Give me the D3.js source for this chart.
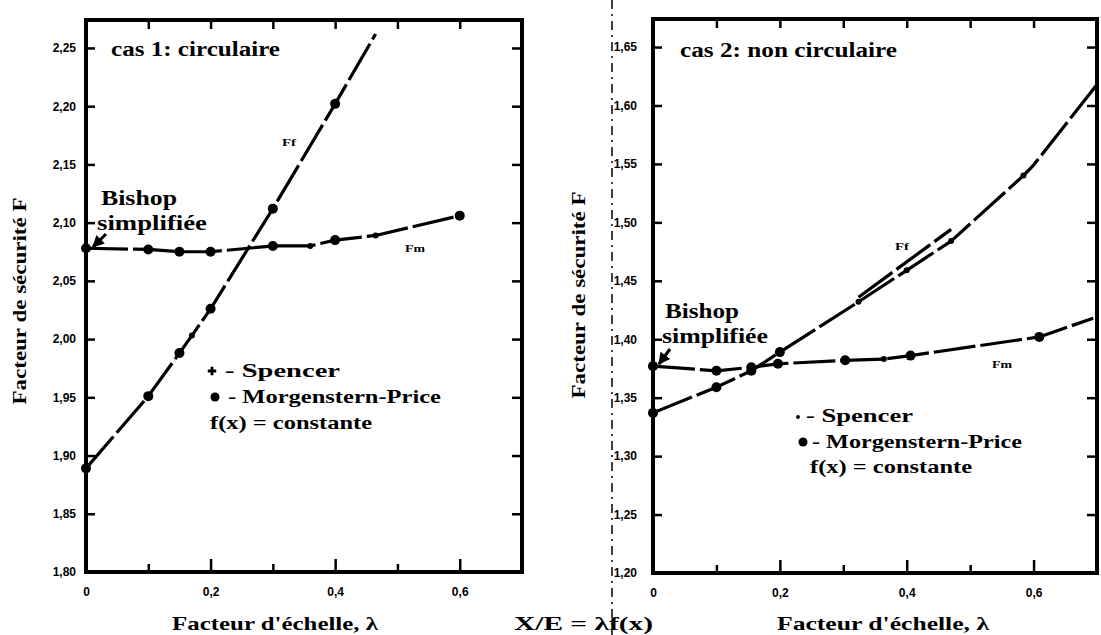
<!DOCTYPE html>
<meta charset="utf-8">
<style>

body {
  margin: 0;
  background: #fff;
}

svg {
  display: block;
  font-family: "Liberation Serif", "DejaVu Serif", serif;
  font-weight: bold;
}

.axe path {
  display: none;
}

.axe line {
  stroke: #000;
  stroke-width: 2.5;
}

.axe text {
  font-size: 12px;
  font-weight: bold;
  fill: #000;
}

.cadre {
  fill: none;
  stroke: #000;
  stroke-width: 4;
}

.courbe {
  fill: none;
  stroke: #000;
  stroke-width: 3.2;
  stroke-linejoin: round;
  stroke-dasharray: 42 5;
}

</style>

<svg width="1101" height="635"></svg>

<script src="https://d3js.org/d3.v7.min.js"></script>
<script>

// graduations
var graduationsX = [0, 0.2, 0.4, 0.6];
var graduationsXmin = [0.1, 0.3, 0.5];
var graduationsY1 = [1.80, 1.85, 1.90, 1.95, 2.00, 2.05, 2.10, 2.15, 2.20, 2.25];
var graduationsY2 = [1.20, 1.25, 1.30, 1.35, 1.40, 1.45, 1.50, 1.55, 1.60, 1.65];

// cas 1: circulaire
var lambdaFf1 = [0, 0.1, 0.15, 0.17, 0.2, 0.3, 0.4, 0.465];
var valeursFf1 = [1.889, 1.951, 1.988, 2.003, 2.026, 2.112, 2.202, 2.262];
var marquesFf1 = ["mp", "mp", "mp", "sp", "mp", "mp", "mp", ""];

var lambdaFm1 = [0, 0.1, 0.15, 0.2, 0.3, 0.36, 0.4, 0.465, 0.6];
var valeursFm1 = [2.078, 2.077, 2.075, 2.075, 2.080, 2.080, 2.085, 2.089, 2.106];
var marquesFm1 = ["mp", "mp", "mp", "mp", "mp", "sp", "mp", "sp", "mp"];

// cas 2: non circulaire
var lambdaFf2 = [0, 0.1, 0.155, 0.2, 0.324, 0.4, 0.47, 0.584, 0.6, 0.7];
var valeursFf2 = [1.337, 1.359, 1.373, 1.389, 1.432, 1.459, 1.484, 1.540, 1.549, 1.618];
var marquesFf2 = ["mp", "mp", "mp", "mp", "sp", "sp", "sp", "sp", "", ""];

// petit trait Spencer au-dessus de Ff
var lambdaSp2 = [0.324, 0.47];
var valeursSp2 = [1.436, 1.494];

var lambdaFm2 = [0, 0.1, 0.155, 0.197, 0.303, 0.364, 0.406, 0.609, 0.694];
var valeursFm2 = [1.377, 1.373, 1.376, 1.379, 1.382, 1.383, 1.386, 1.402, 1.418];
var marquesFm2 = ["mp", "mp", "mp", "mp", "mp", "sp", "mp", "mp", ""];

var svg = d3.select("svg");

// fleche pour "Bishop simplifiée"
svg.append("defs").append("marker")
    .attr("id", "fleche")
    .attr("viewBox", "0 0 10 10")
    .attr("refX", 9).attr("refY", 5)
    .attr("markerWidth", 4).attr("markerHeight", 4)
    .attr("orient", "auto")
  .append("path")
    .attr("d", "M0,0 L10,5 L0,10 z")
    .attr("fill", "#000");

var formatY = d => d3.format(".2f")(d).replace(".", ",");
var formatX = d => d === 0 ? "0" : d3.format(".1f")(d).replace(".", ",");

function panneau(p) {
  var x = d3.scaleLinear().domain([0, 0.7]).range(p.rangeX);
  var y = d3.scaleLinear().domain(p.domaineY).range(p.rangeY);
  var g = svg.append("g");

  // axes (graduations vers l'interieur)
  g.append("g").attr("class", "axe")
      .attr("transform", "translate(" + p.rangeX[0] + ",0)")
      .call(d3.axisLeft(y).tickValues(p.gradY).tickSize(-9).tickPadding(p.padY).tickFormat(formatY));
  g.append("g").attr("class", "axe")
      .attr("transform", "translate(" + p.rangeX[1] + ",0)")
      .call(d3.axisRight(y).tickValues(p.gradY).tickSize(-10).tickFormat(""));
  g.append("g").attr("class", "axe")
      .attr("transform", "translate(0," + p.rangeY[0] + ")")
      .call(d3.axisBottom(x).tickValues(graduationsX).tickSize(-13).tickPadding(15).tickFormat(formatX));
  g.append("g").attr("class", "axe")
      .attr("transform", "translate(0," + p.rangeY[0] + ")")
      .call(d3.axisBottom(x).tickValues(graduationsXmin).tickSize(-8).tickFormat(""));
  g.append("g").attr("class", "axe")
      .attr("transform", "translate(0," + p.rangeY[1] + ")")
      .call(d3.axisTop(x).tickValues(graduationsX.slice(1).concat(graduationsXmin)).tickSize(-9).tickFormat(""));

  g.append("rect").attr("class", "cadre")
      .attr("x", x(0)).attr("y", y(p.domaineY[1]))
      .attr("width", x(0.7) - x(0)).attr("height", y(p.domaineY[0]) - y(p.domaineY[1]));

  var ligne = d3.line().x(d => x(d[0])).y(d => y(d[1]));

  p.courbes.forEach(function(c) {
    var pts = d3.zip(c.lambda, c.valeurs);
    g.append("path").attr("class", "courbe").attr("d", ligne(pts));
    if (!c.marques) return;
    pts.forEach(function(d, i) {
      if (c.marques[i] === "mp") {
        g.append("circle").attr("cx", x(d[0])).attr("cy", y(d[1])).attr("r", 5).attr("fill", "#000");
      } else if (c.marques[i] === "sp") {
        g.append("circle").attr("cx", x(d[0])).attr("cy", y(d[1])).attr("r", 3).attr("fill", "#000");
      }
    });
  });

  // textes
  p.textes.forEach(function(t) {
    g.append("text")
        .attr("x", t[0]).attr("y", t[1])
        .attr("font-size", t[3])
        .attr("textLength", t[4])
        .attr("lengthAdjust", "spacingAndGlyphs")
        .text(t[2]);
  });

  g.append("line")
      .attr("x1", p.fleche[0]).attr("y1", p.fleche[1])
      .attr("x2", p.fleche[2]).attr("y2", p.fleche[3])
      .attr("stroke", "#000").attr("stroke-width", 3)
      .attr("marker-end", "url(#fleche)");

  // legende
  g.append("path")
      .attr("d", d3.symbol(p.symboleSp, p.tailleSp)())
      .attr("transform", "translate(" + p.legende[0] + "," + p.legende[1] + ")");
  g.append("circle").attr("cx", p.legende[2]).attr("cy", p.legende[3]).attr("r", 4.5);

  // titres des axes
  g.append("text")
      .attr("x", p.titreX[0]).attr("y", 630)
      .attr("font-size", 19).attr("textLength", p.titreX[1])
      .attr("lengthAdjust", "spacingAndGlyphs")
      .text("Facteur d'échelle, λ");
  g.append("text")
      .attr("transform", "translate(" + p.titreY[0] + "," + p.titreY[1] + ") rotate(-90)")
      .attr("text-anchor", "middle")
      .attr("font-size", 19).attr("textLength", 207)
      .attr("lengthAdjust", "spacingAndGlyphs")
      .text("Facteur de sécurité F");
}

panneau({
  rangeX: [86, 522], rangeY: [572, 20], domaineY: [1.8, 2.274],
  gradY: graduationsY1, padY: 10,
  courbes: [
    {lambda: lambdaFf1, valeurs: valeursFf1, marques: marquesFf1},
    {lambda: lambdaFm1, valeurs: valeursFm1, marques: marquesFm1}
  ],
  textes: [
    [111, 56, "cas 1: circulaire", 20, 169],
    [101, 205, "Bishop", 20, 76],
    [97, 230, "simplifiée", 20, 110],
    [225, 377, "- Spencer", 19, 115],
    [228, 403, "- Morgenstern-Price", 19, 213],
    [210, 429, "f(x) = constante", 19, 162],
    [282, 146, "Ff", 11, 14],
    [405, 252, "Fm", 11, 20]
  ],
  fleche: [106, 234, 93, 247],
  legende: [212, 371, 215, 397], symboleSp: d3.symbolCross, tailleSp: 40,
  titreX: [172, 206], titreY: [26, 301]
});

panneau({
  rangeX: [653, 1097], rangeY: [573, 19], domaineY: [1.2, 1.674],
  gradY: graduationsY2, padY: 16,
  courbes: [
    {lambda: lambdaFf2, valeurs: valeursFf2, marques: marquesFf2},
    {lambda: lambdaSp2, valeurs: valeursSp2},
    {lambda: lambdaFm2, valeurs: valeursFm2, marques: marquesFm2}
  ],
  textes: [
    [680, 57, "cas 2: non circulaire", 20, 217],
    [665, 318, "Bishop", 20, 74],
    [662, 343, "simplifiée", 20, 106],
    [806, 422, "- Spencer", 19, 107],
    [812, 448, "- Morgenstern-Price", 19, 210],
    [810, 473, "f(x) = constante", 19, 162],
    [895, 250, "Ff", 10, 14],
    [992, 368, "Fm", 10, 20]
  ],
  fleche: [670, 349, 659, 364],
  legende: [798, 417, 803, 442], symboleSp: d3.symbolCircle, tailleSp: 12,
  titreX: [777, 212], titreY: [585, 295]
});

// separation entre les deux graphiques
svg.append("line")
    .attr("x1", 612).attr("y1", 0).attr("x2", 612).attr("y2", 635)
    .attr("stroke", "#000").attr("stroke-width", 1.5)
    .attr("stroke-dasharray", "9 5 2 5");

svg.append("text")
    .attr("x", 514).attr("y", 630)
    .attr("font-size", 19).attr("textLength", 139)
    .attr("lengthAdjust", "spacingAndGlyphs")
    .text("X/E = λf(x)");

</script>
